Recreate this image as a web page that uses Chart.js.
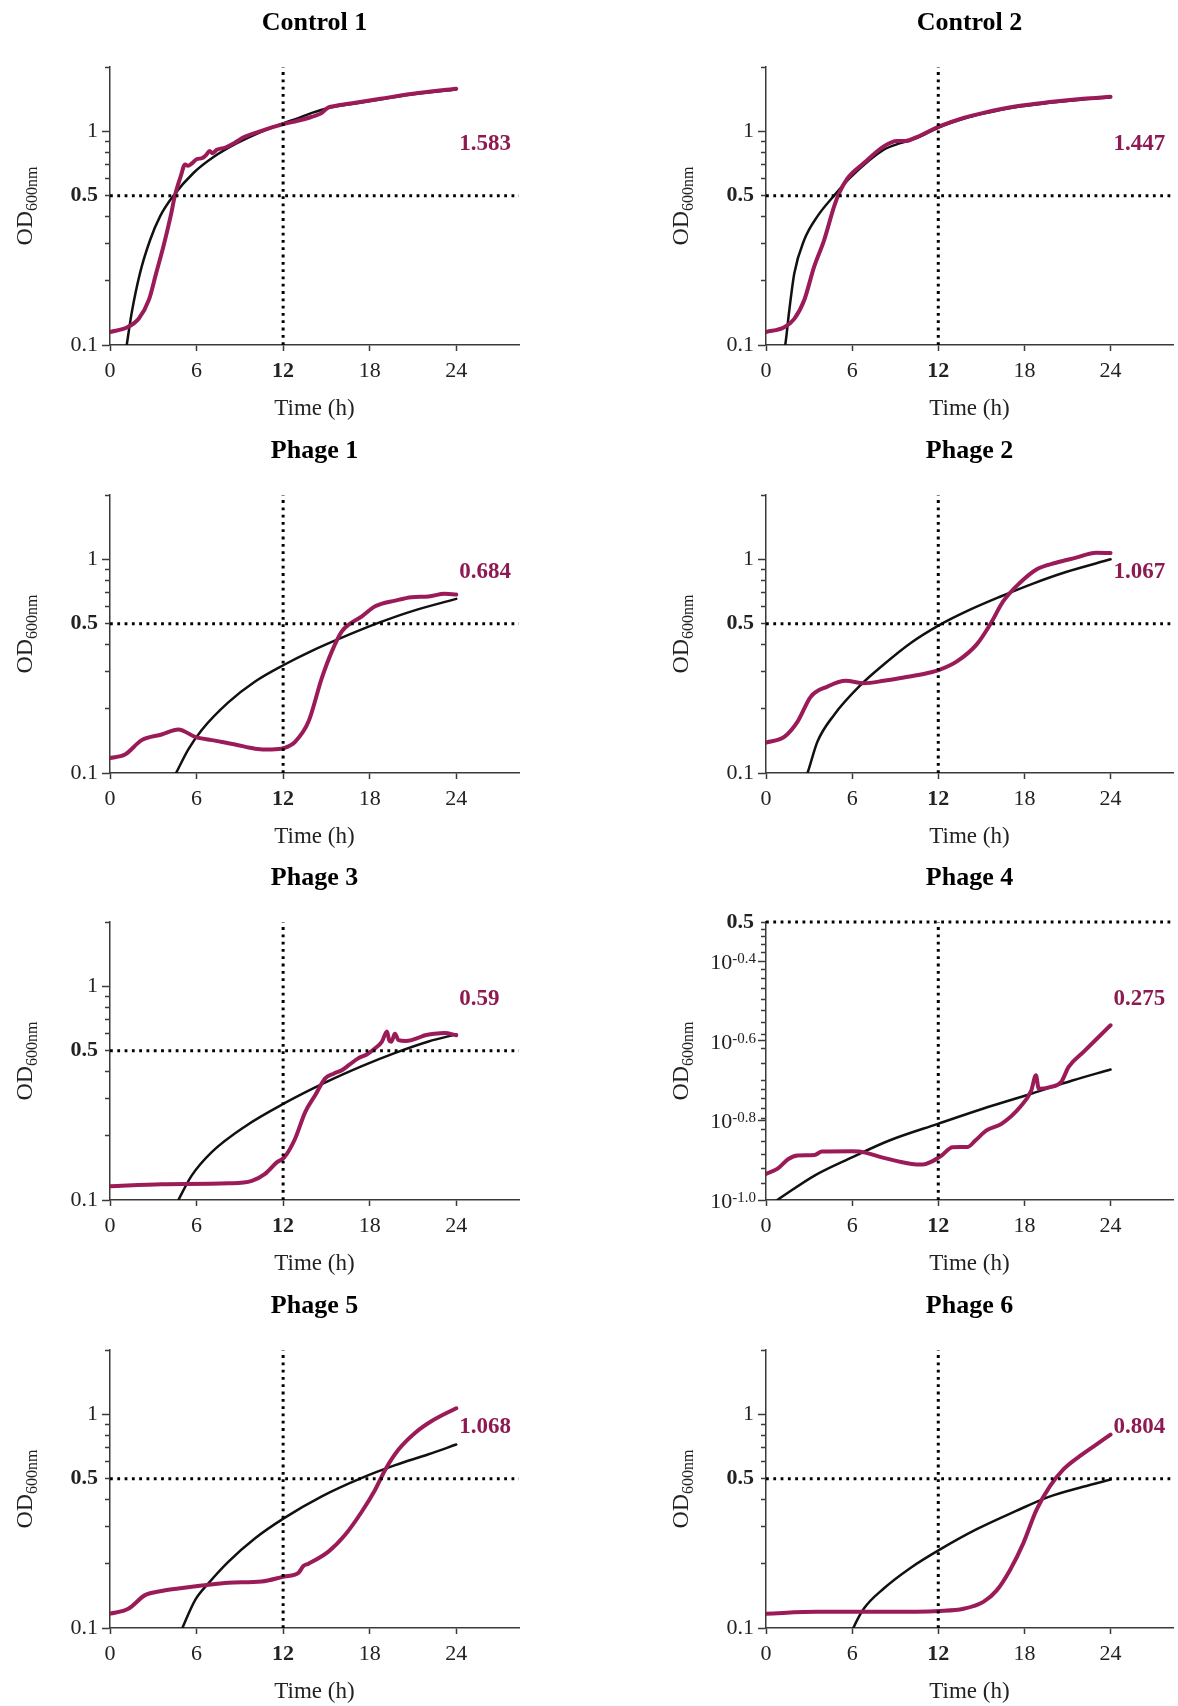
<!DOCTYPE html>
<html>
<head>
<meta charset="utf-8">
<title>OD600 growth curves</title>
<script src="https://cdn.jsdelivr.net/npm/chart.js@4.4.1/dist/chart.umd.min.js"></script>
<style>
  html, body { margin: 0; padding: 0; background: #fff; }
  body { position: relative; width: 1178px; height: 1706px; overflow: hidden; }
  canvas { position: absolute; }
</style>
</head>
<body>
<script>
// titles and the OD600 reached at 24 h
const panelTitles = ['Control 1', 'Control 2', 'Phage 1', 'Phage 2', 'Phage 3', 'Phage 4', 'Phage 5', 'Phage 6'];
const finalOD = ['1.583', '1.447', '0.684', '1.067', '0.59', '0.275', '1.068', '0.804'];

// ticks
const hourTicks = [0, 6, 12, 18, 24];
const odMajorTicks = [0.1, 0.5, 1];
const odMinorTicks = [0.2, 0.3, 0.4, 0.5, 0.6, 0.7, 0.8, 0.9, 2];
const phage4MajorTicks = [0.1, 0.1585, 0.2512, 0.3981, 0.5];
const phage4Powers = ['-1.0', '-0.8', '-0.6', '-0.4'];
const phage4MinorTicks = [0.11, 0.12, 0.13, 0.14, 0.15, 0.16, 0.17, 0.18, 0.19, 0.2, 0.22, 0.24,
  0.26, 0.28, 0.3, 0.32, 0.34, 0.36, 0.38, 0.42, 0.44, 0.46, 0.48, 0.5];

const refHour = 12;
const refOD = 0.5;

// measured curves (magenta) and fitted curves (black)
const control1Hours = [0, 1.2, 2.0, 2.7, 3.2, 3.7, 4.2, 4.5, 4.9, 5.2, 5.4, 5.7, 6.0, 6.4, 6.7, 6.9, 7.1, 7.4, 8.0, 8.6, 9.3, 10.4, 12.0, 13.0, 14.0, 14.6, 15.1, 15.5, 17.0, 18.75, 21.0, 24.0];
const control1OD = [0.115, 0.121, 0.133, 0.163, 0.217, 0.289, 0.40, 0.50, 0.615, 0.70, 0.69, 0.71, 0.74, 0.75, 0.78, 0.81, 0.79, 0.82, 0.84, 0.88, 0.94, 1.0, 1.08, 1.12, 1.17, 1.21, 1.29, 1.31, 1.36, 1.42, 1.50, 1.583];
const control1FitHours = [1.0, 1.16, 1.5, 2.08, 2.78, 3.47, 4.4, 5.8, 7.2, 8.8, 10.4, 12.0, 13.0, 14.0, 15.0, 17.0, 19.0, 21.0, 24.0];
const control1FitOD = [0.085, 0.1, 0.141, 0.217, 0.31, 0.40, 0.50, 0.64, 0.76, 0.88, 0.99, 1.09, 1.15, 1.22, 1.28, 1.35, 1.42, 1.49, 1.57];

const control2Hours = [0, 1.27, 1.97, 2.66, 3.35, 4.05, 4.74, 5.09, 5.66, 6.82, 8.2, 9.13, 9.7, 10.5, 12.07, 13.76, 15.14, 17.46, 19.77, 22.08, 24];
const control2OD = [0.115, 0.121, 0.1325, 0.162, 0.232, 0.31, 0.444, 0.513, 0.60, 0.71, 0.85, 0.90, 0.90, 0.94, 1.055, 1.156, 1.22, 1.31, 1.37, 1.42, 1.45];
const control2FitHours = [1.1, 1.34, 1.62, 1.97, 2.66, 3.58, 4.74, 5.9, 8.2, 9.36, 10.5, 12.07, 13.76, 15.14, 17.46, 19.77, 22.08, 24];
const control2FitOD = [0.085, 0.1, 0.145, 0.216, 0.31, 0.40, 0.50, 0.61, 0.82, 0.88, 0.93, 1.045, 1.145, 1.21, 1.30, 1.36, 1.41, 1.44];

const phage1Hours = [0, 1.04, 2.2, 3.58, 4.74, 5.9, 7.05, 8.67, 10.06, 11.2, 12.07, 12.83, 13.76, 14.68, 15.38, 16.07, 16.65, 17.46, 18.38, 19.77, 20.9, 22.08, 23.2, 24];
const phage1OD = [0.1176, 0.122, 0.1425, 0.1514, 0.16, 0.1476, 0.1425, 0.136, 0.130, 0.1288, 0.131, 0.14, 0.174, 0.278, 0.371, 0.46, 0.50, 0.541, 0.603, 0.641, 0.665, 0.67, 0.69, 0.684];
const phage1FitHours = [4.3, 4.58, 5.43, 6.36, 8.2, 10.06, 12.07, 13.99, 16.07, 18.6, 20.9, 24];
const phage1FitOD = [0.092, 0.1, 0.129, 0.159, 0.214, 0.268, 0.321, 0.373, 0.43, 0.504, 0.571, 0.653];

const phage2Hours = [0, 1.27, 2.2, 3.12, 4.28, 5.55, 6.82, 8.2, 9.6, 11.2, 12.07, 13.3, 14.68, 15.6, 16.53, 17.69, 18.84, 20.2, 21.6, 23.0, 24];
const phage2OD = [0.1388, 0.1476, 0.174, 0.2277, 0.2536, 0.27, 0.263, 0.27, 0.28, 0.293, 0.304, 0.333, 0.40, 0.494, 0.637, 0.777, 0.897, 0.964, 1.018, 1.074, 1.07];
const phage2FitHours = [2.6, 2.89, 3.58, 4.74, 6.59, 8.2, 10.06, 12.07, 13.99, 16.3, 18.6, 20.9, 24];
const phage2FitOD = [0.09, 0.1, 0.14, 0.187, 0.258, 0.322, 0.405, 0.492, 0.572, 0.668, 0.77, 0.872, 1.0];

const phage3Hours = [0, 3.58, 8.2, 9.83, 10.75, 11.56, 12.07, 12.83, 13.53, 14.22, 14.9, 15.5, 16.07, 16.6, 17.2, 17.8, 18.38, 18.84, 19.2, 19.35, 19.5, 19.75, 20.0, 20.5, 20.9, 21.4, 21.85, 22.5, 23.2, 24];
const phage3OD = [0.116, 0.1185, 0.1197, 0.123, 0.1325, 0.150, 0.158, 0.1935, 0.258, 0.309, 0.37, 0.39, 0.405, 0.43, 0.46, 0.48, 0.513, 0.55, 0.614, 0.56, 0.55, 0.60, 0.56, 0.555, 0.56, 0.575, 0.59, 0.6, 0.605, 0.59];
const phage3FitHours = [4.5, 4.74, 5.66, 7.05, 9.36, 12.07, 14.9, 17.46, 19.77, 22.08, 24];
const phage3FitOD = [0.093, 0.1, 0.13, 0.1675, 0.221, 0.283, 0.354, 0.423, 0.488, 0.552, 0.596];

const phage4Hours = [0, 0.78, 1.56, 2.2, 3.38, 3.9, 5.99, 6.5, 8.07, 10.15, 10.93, 11.45, 12.23, 13.0, 14.05, 14.58, 15.36, 16.4, 17.7, 18.48, 18.8, 19.0, 19.78, 20.56, 21.08, 22.12, 23.17, 24];
const phage4OD = [0.1163, 0.1197, 0.1268, 0.1294, 0.1298, 0.1324, 0.1326, 0.1324, 0.128, 0.1232, 0.1228, 0.1245, 0.1294, 0.1358, 0.136, 0.1411, 0.1496, 0.1554, 0.1713, 0.1886, 0.2058, 0.1905, 0.1923, 0.198, 0.216, 0.2357, 0.257, 0.275];
const phage4FitHours = [0, 0.78, 3.38, 5.99, 8.59, 11.97, 15.1, 18.48, 21.34, 24];
const phage4FitOD = [0.096, 0.1, 0.1152, 0.128, 0.1411, 0.1554, 0.1696, 0.185, 0.1997, 0.2128];

const phage5Hours = [0, 1.27, 2.43, 3.58, 4.74, 6.36, 8.2, 10.52, 12.07, 13.06, 13.4, 13.76, 15.14, 16.3, 17.46, 18.38, 19.08, 20.0, 21.16, 22.3, 24];
const phage5OD = [0.1167, 0.123, 0.1425, 0.149, 0.153, 0.158, 0.163, 0.165, 0.174, 0.181, 0.195, 0.2, 0.2277, 0.273, 0.351, 0.444, 0.551, 0.684, 0.82, 0.93, 1.068];
const phage5FitHours = [4.8, 5.02, 5.9, 6.82, 8.2, 10.06, 12.07, 14.68, 17.46, 19.77, 22.08, 24];
const phage5FitOD = [0.092, 0.1, 0.135, 0.1617, 0.204, 0.263, 0.3266, 0.413, 0.504, 0.578, 0.65, 0.722];

const phage6Hours = [0, 3.58, 8.2, 12.07, 13.76, 15.14, 16.07, 17.0, 17.92, 18.84, 19.77, 20.7, 21.85, 23.0, 24];
const phage6OD = [0.1167, 0.119, 0.119, 0.1202, 0.123, 0.1325, 0.150, 0.187, 0.249, 0.357, 0.46, 0.551, 0.637, 0.722, 0.804];
const phage6FitHours = [5.8, 6.08, 6.82, 8.2, 10.06, 12.07, 14.68, 17.46, 19.65, 22.08, 24];
const phage6FitOD = [0.09, 0.1, 0.1233, 0.153, 0.191, 0.232, 0.29, 0.354, 0.41, 0.458, 0.495];

const panels = [
  [control1Hours, control1OD, control1FitHours, control1FitOD],
  [control2Hours, control2OD, control2FitHours, control2FitOD],
  [phage1Hours, phage1OD, phage1FitHours, phage1FitOD],
  [phage2Hours, phage2OD, phage2FitHours, phage2FitOD],
  [phage3Hours, phage3OD, phage3FitHours, phage3FitOD],
  [phage4Hours, phage4OD, phage4FitHours, phage4FitOD],
  [phage5Hours, phage5OD, phage5FitHours, phage5FitOD],
  [phage6Hours, phage6OD, phage6FitHours, phage6FitOD]
];

const SERIF = '"Liberation Serif", "Times New Roman", serif';
const MAGENTA = '#9b1b59';
const LABEL_MAGENTA = '#8e1a52';
const AXIS = '#3a3a3a';
const HOUR_MAX = 28.35;

Chart.defaults.font.family = SERIF;

function points(xs, ys) {
  return xs.map((x, i) => ({ x: x, y: ys[i] }));
}

// titles, axis titles, end value and the 10^x labels of Phage 4
const panelText = {
  id: 'panelText',
  afterDraw(chart, args, opts) {
    const ctx = chart.ctx;
    const area = chart.chartArea;
    const mid = (area.left + area.right) / 2;
    ctx.save();
    ctx.fillStyle = '#000';
    ctx.textAlign = 'center';
    ctx.textBaseline = 'alphabetic';
    ctx.font = 'bold 26px ' + SERIF;
    ctx.fillText(opts.title, mid, 30);

    ctx.fillStyle = '#222';
    ctx.font = '23px ' + SERIF;
    ctx.fillText('Time (h)', mid, 415);

    // OD600nm, rotated
    ctx.save();
    ctx.translate(area.left - 86, (area.top + area.bottom) / 2);
    ctx.rotate(-Math.PI / 2);
    ctx.font = '24px ' + SERIF;
    const wOD = ctx.measureText('OD').width;
    ctx.font = '16px ' + SERIF;
    const wSub = ctx.measureText('600nm').width;
    const start = -(wOD + wSub) / 2;
    ctx.textAlign = 'left';
    ctx.font = '24px ' + SERIF;
    ctx.fillText('OD', start, 8);
    ctx.font = '16px ' + SERIF;
    ctx.fillText('600nm', start + wOD, 13);
    ctx.restore();

    // OD at 24 h
    ctx.fillStyle = LABEL_MAGENTA;
    ctx.textAlign = 'left';
    ctx.font = 'bold 23px ' + SERIF;
    ctx.fillText(opts.value, chart.scales.x.getPixelForValue(24) + 3, area.top + 83);

    if (opts.powers) {
      const y = chart.scales.y;
      ctx.fillStyle = '#222';
      ctx.textAlign = 'right';
      opts.powers.forEach((p, i) => {
        const py = y.getPixelForValue(phage4MajorTicks[i]);
        ctx.font = '15px ' + SERIF;
        const sx = area.left - 10;
        const sw = ctx.measureText(p).width;
        ctx.fillText(p, sx, py + 2);
        ctx.font = '22px ' + SERIF;
        ctx.fillText('10', sx - sw, py + 8);
      });
    }
    ctx.restore();
  }
};

function buildPanel(i) {
  const col = i % 2, row = Math.floor(i / 2);
  const W = 589, H = 428;
  const left = col === 0 ? 110 : 177;
  const right = col === 0 ? 519 : 584;
  const top = 67, bottom = 345;
  const isP4 = i === 5;
  const yMin = 0.1, yMax = isP4 ? 0.5 : 2;
  const majorTicks = isP4 ? phage4MajorTicks : odMajorTicks;
  const minorTicks = isP4 ? phage4MinorTicks : odMinorTicks;

  const canvas = document.createElement('canvas');
  canvas.width = W;
  canvas.height = H;
  canvas.style.left = (col * 589) + 'px';
  canvas.style.top = Math.round(row * 427.5) + 'px';
  document.body.appendChild(canvas);

  const d = panels[i];
  const dotted = {
    borderColor: '#000', borderWidth: 3, borderDash: [2.8, 4.5], borderCapStyle: 'butt',
    pointRadius: 0, clip: 5, fill: false
  };

  new Chart(canvas.getContext('2d'), {
    type: 'line',
    data: {
      datasets: [
        Object.assign({ data: [{ x: 0, y: refOD }, { x: HOUR_MAX, y: refOD }] }, dotted),
        Object.assign({ data: [{ x: refHour, y: yMin }, { x: refHour, y: yMax }] }, dotted),
        {
          data: points(d[0], d[1]), borderColor: MAGENTA, borderWidth: 4,
          borderCapStyle: 'round', borderJoinStyle: 'round', pointRadius: 0,
          cubicInterpolationMode: 'monotone', fill: false
        },
        {
          data: points(d[2], d[3]), borderColor: '#111', borderWidth: 2.5,
          borderCapStyle: 'round', pointRadius: 0, cubicInterpolationMode: 'monotone', fill: false
        }
      ]
    },
    options: {
      responsive: false,
      animation: false,
      devicePixelRatio: 1,
      events: [],
      layout: { padding: { left: 0, right: W - right, top: top, bottom: 0 } },
      plugins: {
        legend: { display: false },
        tooltip: { enabled: false },
        panelText: { title: panelTitles[i], value: finalOD[i], powers: isP4 ? phage4Powers : null }
      },
      scales: {
        x: {
          type: 'linear', min: 0, max: HOUR_MAX,
          afterBuildTicks: s => { s.ticks = hourTicks.map(v => ({ value: v })); },
          afterFit: s => { s.height = H - bottom; },
          grid: { drawOnChartArea: false, drawTicks: true, tickLength: 6, tickColor: AXIS, tickWidth: 1.5 },
          border: { display: true, color: AXIS, width: 1.5 },
          ticks: {
            autoSkip: false, maxRotation: 0, padding: 7, color: '#222',
            font: c => ({ family: SERIF, size: 22, weight: c.tick && c.tick.value === refHour ? 'bold' : 'normal' }),
            callback: v => String(v)
          }
        },
        y: {
          type: 'logarithmic', position: 'left', weight: 1, min: yMin, max: yMax,
          afterBuildTicks: s => { s.ticks = majorTicks.map(v => ({ value: v })); },
          afterFit: s => { s.width = left; },
          grid: {
            drawOnChartArea: false, drawTicks: true, tickLength: 8, tickWidth: 1.5,
            tickColor: c => (c.tick && c.tick.value === refOD) ? 'rgba(0,0,0,0)' : AXIS
          },
          border: { display: true, color: AXIS, width: 1.5 },
          ticks: {
            autoSkip: false, padding: 4, color: '#222',
            font: c => ({ family: SERIF, size: 22, weight: c.tick && c.tick.value === refOD ? 'bold' : 'normal' }),
            callback: v => {
              if (v === refOD) return '0.5';
              if (isP4) return '';
              return v === 1 ? '1' : (v === 0.1 ? '0.1' : '');
            }
          }
        },
        yMinor: {
          type: 'logarithmic', position: 'left', weight: 0, min: yMin, max: yMax,
          afterBuildTicks: s => { s.ticks = minorTicks.map(v => ({ value: v })); },
          afterFit: s => { s.width = 0; },
          grid: { drawOnChartArea: false, drawTicks: true, tickLength: 5, tickColor: AXIS, tickWidth: 1.5 },
          border: { display: false },
          ticks: { display: false }
        }
      }
    },
    plugins: [panelText]
  });
}

for (let i = 0; i < panels.length; i++) buildPanel(i);
</script>
</body>
</html>
